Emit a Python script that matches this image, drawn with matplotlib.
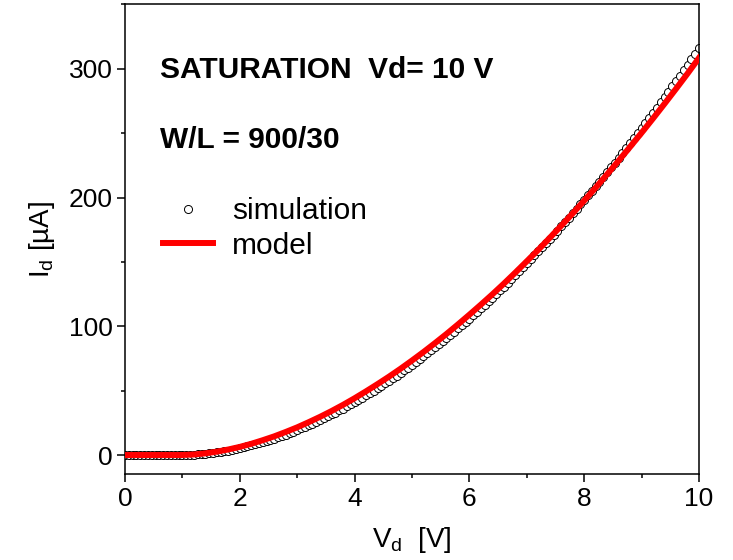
import numpy as np
import matplotlib
matplotlib.use("Agg")
import matplotlib.pyplot as plt
from matplotlib.ticker import MultipleLocator

plt.rcParams["font.family"] = ["Liberation Sans", "DejaVu Sans"]
plt.rcParams["mathtext.fontset"] = "custom"
plt.rcParams["mathtext.rm"] = "Liberation Sans"
plt.rcParams["mathtext.it"] = "Liberation Sans:italic"

# drain voltage sweep (V)
vd_sim = np.linspace(0, 10, 151)
vd_model = np.linspace(0, 10, 51)

# simulated drain current (uA), one row per volt
id_sim = [
    0.0, 0.0, 0.0, 0.0, 0.0, 0.0, 0.0, 0.0, 0.0, 0.0, 0.0, 0.0, 0.0, 0.0, 0.0,
    0.1, 0.1, 0.2, 0.3, 0.5, 0.7, 1.0, 1.3, 1.7, 2.1, 2.5, 3.0, 3.5, 4.1, 4.7,
    5.3, 6.0, 6.8, 7.5, 8.3, 9.1, 10.0, 10.9, 11.8, 12.8, 13.8, 14.8, 15.9, 17.0, 18.2,
    19.3, 20.6, 21.8, 23.1, 24.4, 25.8, 27.1, 28.6, 30.0, 31.5, 33.0, 34.6, 36.1, 37.7, 39.4,
    41.0, 42.8, 44.5, 46.3, 48.1, 49.9, 51.8, 53.7, 55.7, 57.6, 59.6, 61.6, 63.7, 65.8, 67.9,
    70.0, 72.3, 74.5, 76.7, 79.0, 81.3, 83.6, 86.0, 88.4, 90.8, 93.3, 95.8, 98.3, 100.9, 103.5,
    106.0, 108.7, 111.4, 114.1, 116.8, 119.6, 122.3, 125.2, 128.0, 130.9, 133.8, 136.8, 139.7, 142.7, 145.8,
    148.8, 151.9, 155.0, 158.1, 161.3, 164.5, 167.8, 171.0, 174.3, 177.6, 181.0, 184.4, 187.7, 191.2, 194.7,
    198.1, 201.7, 205.2, 208.8, 212.4, 216.1, 219.7, 223.4, 227.1, 230.8, 234.6, 238.4, 242.2, 246.1, 250.0,
    253.9, 257.9, 261.8, 265.8, 269.9, 273.9, 278.0, 282.1, 286.3, 290.4, 294.6, 298.9, 303.1, 307.4, 311.7,
    316.0,
]

# model drain current (uA), every 0.2 V
id_model = [
    0.0, 0.0, 0.0, 0.0, 0.0, 0.0, 0.4, 1.3, 2.6, 4.3,
    6.3, 8.7, 11.5, 14.5, 17.9, 21.5, 25.5, 29.7, 34.2, 39.0,
    44.1, 49.5, 55.1, 60.9, 67.0, 73.4, 80.0, 86.9, 94.0, 101.4,
    109.0, 116.8, 124.8, 133.1, 141.7, 150.5, 159.4, 168.7, 178.1, 187.7,
    197.6, 207.7, 218.1, 228.6, 239.4, 250.3, 261.5, 272.9, 284.5, 296.3,
    308.5,
]

fig = plt.figure(figsize=(7.33, 5.6), dpi=100)
ax = fig.add_axes([0.1705, 0.153, 0.7831, 0.839])

ax.plot(vd_sim, id_sim, "o", ms=5.8, mfc="white", mec="black", mew=0.7,
        label="simulation", zorder=2)
ax.plot(vd_model, id_model, "-", color="#ff0000", lw=4.3, label="model", zorder=3)

ax.set_xlim(0, 10)
ax.set_ylim(-15, 350)
ax.xaxis.set_major_locator(MultipleLocator(2))
ax.xaxis.set_minor_locator(MultipleLocator(1))
ax.yaxis.set_major_locator(MultipleLocator(100))
ax.yaxis.set_minor_locator(MultipleLocator(50))
ax.tick_params(which="both", direction="out", width=1.1, labelsize=19,
               top=False, right=False)
ax.tick_params(which="major", length=5.5)
ax.tick_params(which="minor", length=3)
for s in ax.spines.values():
    s.set_linewidth(1.1)

ax.set_xlabel(r"$\mathregular{V_d}$  [V]", fontsize=20, labelpad=10)
ax.set_ylabel(r"$\mathregular{I_d}$ [µA]", fontsize=20, labelpad=8)

ax.text(0.61, 299, "SATURATION  Vd= 10 V", fontsize=21.5, fontweight="bold",
        va="center", ha="left")
ax.text(0.61, 245, "W/L = 900/30", fontsize=21.5, fontweight="bold",
        va="center", ha="left")

ax.legend(loc="upper left", bbox_to_anchor=(0.066, 0.59), frameon=False,
          fontsize=21.5, handlelength=1.67, handletextpad=0.64, labelspacing=0.22,
          borderpad=0, borderaxespad=0)

fig.savefig("out.png", dpi=100)
